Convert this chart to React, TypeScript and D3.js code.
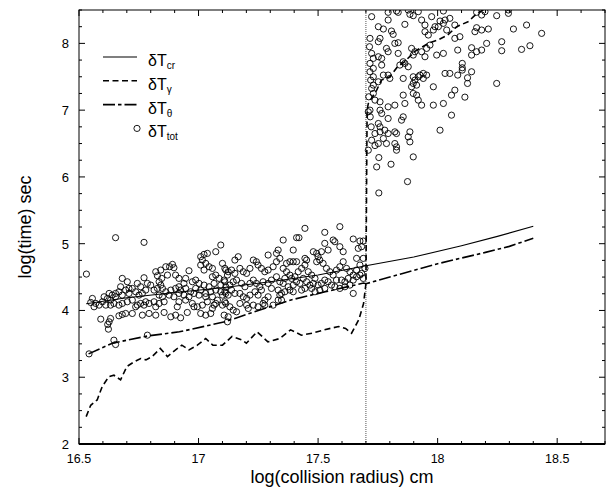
import React from 'react';
import * as d3 from 'd3';

const W = 607;
const H = 487;

// Axis definitions
const xDomain = [16.5, 18.7];
const yDomain = [2, 8.5];
const xMajor = [16.5, 17, 17.5, 18, 18.5];
const xLabels = ['16.5', '17', '17.5', '18', '18.5'];
const yMajor = [2, 3, 4, 5, 6, 7, 8];
const yLabels = ['2', '3', '4', '5', '6', '7', '8'];
const xTitle = 'log(collision radius) cm';
const yTitle = 'log(time) sec';
const transitionX = 17.7;

// δT_cr (solid)
const crPts: [number, number][] = [
  [16.53, 4.1], [16.7, 4.19], [16.9, 4.27], [17.1, 4.34], [17.3, 4.43], [17.5, 4.53],
  [17.7, 4.67], [17.9, 4.8], [18.1, 4.97], [18.25, 5.11], [18.4, 5.26],
];

// δT_γ (dashed)
const gammaPts: [number, number][] = [
  [16.53, 2.41], [16.549, 2.58], [16.576, 2.66], [16.597, 2.86], [16.625, 3.01], [16.646, 3.03],
  [16.674, 2.96], [16.7, 3.16], [16.73, 3.23], [16.758, 3.28], [16.78, 3.26], [16.806, 3.31],
  [16.84, 3.43], [16.87, 3.31], [16.904, 3.41], [16.93, 3.48], [16.96, 3.41], [16.995, 3.48],
  [17.03, 3.58], [17.06, 3.48], [17.1, 3.48], [17.14, 3.61], [17.18, 3.56], [17.2, 3.51],
  [17.245, 3.68], [17.29, 3.53], [17.34, 3.58], [17.385, 3.71], [17.43, 3.63], [17.476, 3.66],
  [17.525, 3.71], [17.586, 3.76], [17.615, 3.73], [17.64, 3.66], [17.67, 3.86], [17.69, 4.1],
  [17.7, 4.4], [17.705, 7.0], [17.71, 7.1], [17.745, 7.3], [17.765, 7.45], [17.8, 7.5],
  [17.83, 7.64], [17.86, 7.72], [17.905, 7.88], [17.96, 8.0], [18.0, 8.05], [18.04, 8.12],
  [18.08, 8.25], [18.13, 8.33], [18.15, 8.4], [18.17, 8.46], [18.2, 8.52],
];

// δT_θ (dash-dot)
const thetaPts: [number, number][] = [
  [16.54, 3.35], [16.64, 3.51], [16.79, 3.62], [16.92, 3.68], [17.11, 3.83], [17.25, 4.0],
  [17.39, 4.16], [17.53, 4.28], [17.69, 4.41], [17.7, 4.4], [17.85, 4.55], [18.0, 4.7],
  [18.2, 4.87], [18.3, 4.96], [18.4, 5.08],
];

// δT_tot (open circles), below the transition
const totLow: [number, number][] = [
  [16.653, 5.09], [16.772, 5.02], [16.531, 4.545], [17.093, 4.98], [17.072, 4.88], [16.681, 4.48],
  [16.702, 4.43], [16.772, 4.49], [17.009, 4.805], [17.023, 4.84], [17.037, 4.855], [17.016, 4.755],
  [17.03, 4.705], [17.009, 4.68], [17.044, 4.655], [17.023, 4.605], [17.058, 4.63], [17.072, 4.53],
  [17.1, 4.705], [17.114, 4.605], [17.121, 4.53], [17.058, 4.505], [17.086, 4.48], [17.107, 4.455],
  [16.891, 4.69], [16.879, 4.655], [16.897, 4.64], [16.863, 4.655], [16.842, 4.605], [16.821, 4.58],
  [16.828, 4.52], [16.846, 4.48], [16.87, 4.53], [16.904, 4.53], [16.918, 4.48], [16.946, 4.48],
  [16.96, 4.595], [16.939, 4.405], [16.918, 4.355], [16.974, 4.43], [16.988, 4.455], [17.002, 4.405],
  [17.023, 4.38], [17.044, 4.355], [17.065, 4.405], [17.093, 4.38], [17.114, 4.355], [16.835, 4.43],
  [16.842, 4.38], [16.849, 4.33], [16.828, 4.33], [16.814, 4.305], [16.8, 4.38], [16.786, 4.405],
  [16.779, 4.305], [16.758, 4.355], [16.744, 4.405], [16.723, 4.33], [16.709, 4.33], [16.695, 4.305],
  [16.674, 4.355], [16.667, 4.28], [16.653, 4.255], [16.639, 4.23], [16.626, 4.255], [16.605, 4.205],
  [16.619, 4.18], [16.632, 4.155], [16.653, 4.205], [16.681, 4.23], [16.709, 4.255], [16.737, 4.28],
  [16.751, 4.23], [16.765, 4.255], [16.863, 4.28], [16.884, 4.305], [16.904, 4.33], [16.925, 4.305],
  [16.946, 4.33], [16.967, 4.28], [16.988, 4.33], [17.009, 4.305], [17.03, 4.255], [17.051, 4.28],
  [17.072, 4.305], [17.093, 4.28], [17.114, 4.255], [16.877, 4.23], [16.897, 4.205], [16.918, 4.255],
  [16.939, 4.23], [16.96, 4.205], [16.981, 4.255], [17.002, 4.23], [17.03, 4.205], [17.058, 4.205],
  [17.079, 4.155], [17.1, 4.23], [16.556, 4.18], [16.549, 4.12], [16.57, 4.105], [16.563, 4.055],
  [16.584, 4.08], [16.598, 4.13], [16.612, 4.08], [16.632, 4.08], [16.646, 4.105], [16.667, 4.08],
  [16.681, 4.105], [16.702, 4.13], [16.723, 4.155], [16.744, 4.08], [16.758, 4.105], [16.779, 4.13],
  [16.793, 4.105], [16.814, 4.13], [16.835, 4.105], [16.856, 4.13], [16.821, 4.055], [16.737, 4.055],
  [16.772, 4.08], [16.849, 4.205], [16.835, 4.23], [16.918, 4.13], [16.946, 4.155], [16.974, 4.105],
  [16.995, 4.055], [17.016, 4.08], [17.037, 4.13], [17.065, 4.08], [17.058, 4.03], [17.072, 4.105],
  [17.1, 4.08], [17.114, 4.105], [16.911, 4.055], [16.981, 4.055], [16.591, 3.87], [16.626, 3.83],
  [16.632, 3.88], [16.623, 3.72], [16.646, 3.555], [16.667, 3.92], [16.681, 3.94], [16.695, 3.955],
  [16.723, 3.955], [16.765, 3.93], [16.793, 3.955], [16.821, 3.93], [16.856, 3.97], [16.884, 3.905],
  [16.904, 3.93], [16.925, 3.89], [16.953, 3.97], [17.009, 3.955], [17.03, 3.93], [17.051, 3.955],
  [17.107, 3.93], [17.121, 3.83], [16.786, 3.63], [16.542, 3.35], [16.653, 3.49], [16.62, 3.79],
  [17.445, 5.23], [17.528, 5.17], [17.591, 5.255], [17.354, 5.055], [17.41, 5.09], [17.42, 5.09],
  [17.563, 5.055], [17.57, 5.03], [17.528, 5.005], [17.542, 4.905], [17.591, 4.955], [17.605, 4.88],
  [17.647, 5.07], [17.675, 5.04], [17.689, 5.04], [17.668, 4.93], [17.682, 4.955], [17.396, 4.905],
  [17.166, 4.805], [17.152, 4.755], [17.333, 4.905], [17.326, 4.855], [17.291, 4.83], [17.48, 4.88],
  [17.494, 4.855], [17.514, 4.88], [17.5, 4.805], [17.41, 4.73], [17.396, 4.73], [17.382, 4.73],
  [17.368, 4.705], [17.445, 4.78], [17.452, 4.755], [17.661, 4.78], [17.689, 4.78], [17.11, 4.63],
  [17.124, 4.58], [17.138, 4.605], [17.152, 4.555], [17.173, 4.63], [17.187, 4.58], [17.201, 4.555],
  [17.215, 4.63], [17.229, 4.755], [17.242, 4.73], [17.249, 4.68], [17.263, 4.63], [17.277, 4.58],
  [17.291, 4.605], [17.312, 4.655], [17.326, 4.73], [17.34, 4.78], [17.354, 4.63], [17.368, 4.58],
  [17.382, 4.53], [17.389, 4.48], [17.403, 4.505], [17.417, 4.58], [17.431, 4.63], [17.445, 4.68],
  [17.459, 4.58], [17.473, 4.53], [17.487, 4.48], [17.494, 4.73], [17.507, 4.755], [17.521, 4.705],
  [17.535, 4.63], [17.549, 4.58], [17.563, 4.53], [17.577, 4.605], [17.591, 4.655], [17.605, 4.73],
  [17.619, 4.63], [17.633, 4.58], [17.647, 4.53], [17.661, 4.605], [17.675, 4.68], [17.682, 4.555],
  [17.696, 4.63], [17.11, 4.43], [17.131, 4.38], [17.145, 4.43], [17.159, 4.455], [17.18, 4.405],
  [17.194, 4.355], [17.215, 4.405], [17.229, 4.455], [17.242, 4.405], [17.256, 4.355], [17.27, 4.43],
  [17.291, 4.405], [17.305, 4.455], [17.326, 4.505], [17.34, 4.43], [17.354, 4.405], [17.361, 4.48],
  [17.375, 4.355], [17.396, 4.38], [17.41, 4.43], [17.424, 4.405], [17.438, 4.48], [17.452, 4.43],
  [17.466, 4.38], [17.48, 4.405], [17.5, 4.38], [17.514, 4.405], [17.528, 4.455], [17.542, 4.43],
  [17.556, 4.38], [17.577, 4.455], [17.598, 4.455], [17.612, 4.43], [17.626, 4.48], [17.647, 4.455],
  [17.661, 4.505], [17.675, 4.53], [17.689, 4.48], [17.11, 4.28], [17.124, 4.23], [17.138, 4.305],
  [17.152, 4.255], [17.173, 4.255], [17.187, 4.205], [17.201, 4.18], [17.215, 4.23], [17.236, 4.28],
  [17.249, 4.23], [17.263, 4.305], [17.277, 4.155], [17.291, 4.205], [17.305, 4.33], [17.333, 4.305],
  [17.347, 4.255], [17.361, 4.28], [17.382, 4.305], [17.396, 4.28], [17.431, 4.305], [17.445, 4.33],
  [17.473, 4.33], [17.487, 4.28], [17.507, 4.305], [17.528, 4.33], [17.57, 4.355], [17.591, 4.33],
  [17.612, 4.355], [17.633, 4.38], [17.11, 4.13], [17.131, 4.055], [17.145, 4.005], [17.159, 3.98],
  [17.173, 4.105], [17.201, 4.08], [17.208, 4.03], [17.229, 4.08], [17.249, 4.055], [17.27, 4.105],
  [17.277, 4.08], [17.312, 4.08], [17.333, 4.155], [17.347, 4.155], [17.34, 4.23], [17.647, 4.255],
  [17.124, 3.905],
];

// δT_tot (open circles), above the transition
const totHigh: [number, number][] = [
  [17.793, 8.465], [17.828, 8.485], [17.835, 8.465], [17.877, 8.5], [17.884, 8.435], [17.898, 8.415],
  [17.919, 8.475], [18.024, 8.485], [17.724, 8.4], [17.793, 8.35], [17.863, 8.285], [17.933, 8.35],
  [17.947, 8.275], [17.975, 8.4], [17.989, 8.25], [18.01, 8.335], [18.031, 8.35], [18.051, 8.375],
  [18.024, 8.3], [18.072, 8.275], [17.752, 8.25], [17.773, 8.215], [17.807, 8.185], [17.814, 8.135],
  [17.717, 8.075], [17.759, 8.075], [17.752, 8.025], [17.821, 8.0], [17.835, 8.01], [17.947, 8.175],
  [17.961, 8.125], [17.982, 8.2], [18.003, 8.25], [18.038, 8.2], [18.072, 8.075], [18.093, 8.1],
  [17.786, 7.925], [17.793, 7.875], [17.724, 7.85], [17.731, 7.775], [17.752, 7.8], [17.766, 7.775],
  [17.717, 7.7], [17.731, 7.625], [17.766, 7.675], [17.835, 7.85], [17.891, 7.925], [17.905, 7.875],
  [17.933, 7.875], [17.947, 7.8], [17.954, 7.925], [17.968, 7.975], [17.898, 7.825], [17.996, 7.825],
  [18.024, 7.85], [17.863, 7.7], [17.877, 7.65], [17.842, 7.675], [17.856, 7.725], [17.717, 7.575],
  [17.731, 7.5], [17.773, 7.525], [17.793, 7.525], [17.8, 7.475], [17.856, 7.475], [17.898, 7.5],
  [17.905, 7.45], [17.919, 7.5], [17.926, 7.525], [17.94, 7.55], [17.954, 7.525], [17.94, 7.475],
  [18.031, 7.55], [18.051, 7.55], [17.752, 7.425], [17.731, 7.375], [17.724, 7.325], [17.898, 7.4],
  [17.891, 7.35], [17.912, 7.375], [17.982, 7.35], [17.856, 7.225], [17.898, 7.25], [17.912, 7.225],
  [18.072, 7.3], [18.058, 7.225], [17.731, 7.25], [17.738, 7.15], [17.759, 7.125], [17.919, 7.15],
  [17.933, 7.075], [17.821, 7.075], [17.793, 7.05], [17.863, 7.1], [17.982, 7.075], [18.024, 7.1],
  [18.058, 6.925], [17.717, 7.0], [17.71, 6.975], [17.759, 7.0], [17.766, 6.95], [17.793, 6.875],
  [17.856, 6.9], [17.849, 6.85], [17.752, 6.8], [17.759, 6.75], [17.738, 6.65], [17.759, 6.675],
  [17.779, 6.7], [17.793, 6.65], [17.821, 6.675], [17.828, 6.65], [17.884, 6.675], [17.877, 6.6],
  [17.884, 6.525], [18.01, 6.7], [17.724, 6.55], [17.773, 6.575], [17.752, 6.5], [17.786, 6.5],
  [17.821, 6.5], [17.828, 6.45], [18.163, 8.465], [18.184, 8.425], [18.198, 8.475], [18.247, 8.415],
  [18.296, 8.5], [18.296, 8.45], [18.163, 8.235], [18.156, 8.175], [18.184, 8.2], [18.212, 8.215],
  [18.317, 8.215], [18.372, 8.275], [18.435, 8.15], [18.205, 8.0], [18.268, 8.025], [18.386, 7.965],
  [18.351, 7.91], [18.268, 7.89], [18.184, 7.9], [18.163, 7.875], [18.142, 7.935], [18.142, 7.825],
  [18.084, 7.9], [18.103, 7.7], [18.103, 7.635], [18.103, 7.6], [18.142, 7.575], [18.084, 7.525],
  [18.125, 7.485], [18.125, 7.4], [18.247, 7.4], [18.114, 7.195], [17.71, 6.4], [17.738, 6.47],
  [17.828, 6.4], [17.754, 6.29], [17.898, 6.3], [17.745, 6.15], [17.805, 6.19], [17.874, 5.93],
  [17.754, 5.76], [17.715, 7.95], [17.72, 7.45], [17.712, 7.2], [17.718, 6.9], [17.722, 6.75],
];

const legendItems = [
  { sub: 'cr', kind: 'solid' },
  { sub: 'γ', kind: 'dash' },
  { sub: 'θ', kind: 'dashdot' },
  { sub: 'tot', kind: 'circle' },
];

const FONT = '"Liberation Sans", Arial, Helvetica, sans-serif';

export default function App() {
  const x = d3.scaleLinear().domain(xDomain).range([79, 605]);
  const y = d3.scaleLinear().domain(yDomain).range([444, 10]);
  const [x0, x1] = x.range();
  const [yb, yt] = y.range();

  const line = d3
    .line<[number, number]>()
    .x((d) => x(d[0]))
    .y((d) => y(d[1]));

  const xMinor = d3.range(0, 23).map((i) => 16.5 + i * 0.1).filter((v) => v <= 18.7 + 1e-9);
  const yMinor = d3.range(0, 27).map((i) => 2 + i * 0.25).filter((v) => v <= 8.5 + 1e-9);
  const isMajorX = (v: number) => xMajor.some((m) => Math.abs(m - v) < 1e-6);
  const isMajorY = (v: number) => yMajor.some((m) => Math.abs(m - v) < 1e-6);

  const dashGamma = '6,3.5';
  const dashTheta = '12,3,3.5,3';
  const R = 3.1;

  return (
    <svg
      width={W}
      height={H}
      style={{ position: 'absolute', left: 0, top: 0, background: '#fff' }}
      fontFamily={FONT}
    >
      <defs>
        <clipPath id="plotClip">
          <rect x={x0} y={yt} width={x1 - x0} height={yb - yt} />
        </clipPath>
      </defs>
      <rect x={0} y={0} width={W} height={H} fill="#fff" />

      {/* transition dotted line */}
      <line
        x1={x(transitionX)}
        x2={x(transitionX)}
        y1={yb}
        y2={yt}
        stroke="#555"
        strokeWidth={1}
        strokeDasharray="1,1"
      />

      <g clipPath="url(#plotClip)">
        {totLow.concat(totHigh).map((d, i) => (
          <circle key={i} cx={x(d[0])} cy={y(d[1])} r={R} fill="none" stroke="#000" strokeWidth={0.9} />
        ))}
        <path d={line(crPts) || ''} fill="none" stroke="#000" strokeWidth={1.1} />
        <path d={line(thetaPts) || ''} fill="none" stroke="#000" strokeWidth={1.6} strokeDasharray={dashTheta} />
        <path d={line(gammaPts) || ''} fill="none" stroke="#000" strokeWidth={1.6} strokeDasharray={dashGamma} />
      </g>

      {/* frame */}
      <rect x={x0} y={yt} width={x1 - x0} height={yb - yt} fill="none" stroke="#000" strokeWidth={1} />
      <line x1={x0} x2={x1} y1={yb} y2={yb} stroke="#000" strokeWidth={1.8} />

      {/* x ticks bottom & top */}
      {xMinor.map((v, i) => {
        const len = isMajorX(v) ? 6 : 3;
        return (
          <g key={'xt' + i}>
            <line x1={x(v)} x2={x(v)} y1={yb} y2={yb - len} stroke="#000" strokeWidth={1} />
            <line x1={x(v)} x2={x(v)} y1={yt} y2={yt + len} stroke="#000" strokeWidth={1} />
          </g>
        );
      })}
      {/* y ticks left & right */}
      {yMinor.map((v, i) => {
        const len = isMajorY(v) ? 6 : 3;
        return (
          <g key={'yt' + i}>
            <line x1={x0} x2={x0 + len} y1={y(v)} y2={y(v)} stroke="#000" strokeWidth={1} />
            <line x1={x1} x2={x1 - len} y1={y(v)} y2={y(v)} stroke="#000" strokeWidth={1} />
          </g>
        );
      })}

      {/* tick labels */}
      {xMajor.map((v, i) => (
        <text key={'xl' + i} x={x(v)} y={463} textAnchor="middle" fontSize={12.5} fill="#000">
          {xLabels[i]}
        </text>
      ))}
      {yMajor.map((v, i) => (
        <text key={'yl' + i} x={69} y={y(v) + 5} textAnchor="end" fontSize={13} fill="#000">
          {yLabels[i]}
        </text>
      ))}

      {/* axis titles */}
      <text x={(x0 + x1) / 2} y={482.5} textAnchor="middle" fontSize={18} fill="#000">
        {xTitle}
      </text>
      <text
        transform={`translate(31, ${(yb + yt) / 2}) rotate(-90)`}
        textAnchor="middle"
        fontSize={18}
        fill="#000"
      >
        {yTitle}
      </text>

      {/* legend */}
      {legendItems.map((it, i) => {
        const cy = 57 + i * 23.8;
        return (
          <g key={'lg' + i}>
            {it.kind === 'circle' ? (
              <circle cx={137} cy={cy} r={R} fill="none" stroke="#000" strokeWidth={0.9} />
            ) : (
              <line
                x1={103}
                x2={137}
                y1={cy}
                y2={cy}
                stroke="#000"
                strokeWidth={it.kind === 'solid' ? 1.1 : 1.6}
                strokeDasharray={it.kind === 'dash' ? dashGamma : it.kind === 'dashdot' ? dashTheta : undefined}
              />
            )}
            <text x={148} y={cy + 9} fontSize={16} fill="#000">
              δT
              <tspan fontSize={10} dy={3} fill="#000">
                {it.sub}
              </tspan>
            </text>
          </g>
        );
      })}
    </svg>
  );
}
